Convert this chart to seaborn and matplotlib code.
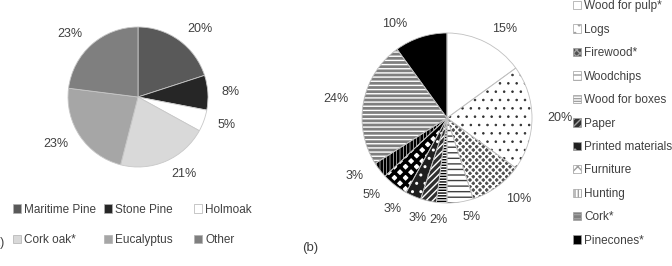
import matplotlib
matplotlib.use("Agg")
import numpy as np
import matplotlib.pyplot as plt
from matplotlib.patches import Patch
import seaborn as sns

# ---- data ----
species = ["Maritime Pine", "Stone Pine", "Holmoak", "Cork oak*", "Eucalyptus", "Other"]
species_pct = [20, 8, 5, 21, 23, 23]

products = ["Wood for pulp*", "Logs", "Firewood*", "Woodchips", "Wood for boxes",
            "Paper", "Printed materials", "Furniture", "Hunting", "Cork*", "Pinecones*"]
products_pct = [15, 20, 10, 5, 2, 3, 3, 5, 3, 24, 10]

sns.set_theme(style="white")
plt.rcParams["font.family"] = ["Liberation Sans", "DejaVu Sans"]
plt.rcParams["hatch.linewidth"] = 1.0
TXT = "#404040"

species_colors = ["#595959", "#262626", "#ffffff", "#d9d9d9", "#a6a6a6", "#7f7f7f"]

# (facecolor, hatch, hatchcolor, hatch linewidth)
prod_styles = [
    ("#ffffff", None, "#ffffff", 1.0),
    ("#ffffff", "..", "#303030", 0.6),
    ("#505050", "xxxxx", "#ffffff", 1.2),
    ("#ffffff", "---", "#404040", 1.0),
    ("#ffffff", "------", "#000000", 1.0),
    ("#303030", "/////", "#ffffff", 1.0),
    ("#202020", "..", "#ffffff", 1.0),
    ("#ffffff", "xxx", "#000000", 2.5),
    ("#ffffff", "|||||", "#000000", 2.0),
    ("#7f7f7f", "----", "#ffffff", 1.0),
    ("#000000", None, "#000000", 1.0),
]

# small angular nudges (degrees) for crowded labels of the right pie
label_nudge = {4: 4, 5: 1, 6: -3, 7: -3, 8: -3, 10: 5}


def style_patch(p, fc, h, hc, hlw):
    p.set_facecolor(fc)
    p.set_edgecolor(hc)
    p.set_linewidth(0)
    if h:
        p.set_hatch(h)
        if hasattr(p, "set_hatch_linewidth"):
            p.set_hatch_linewidth(hlw)


fig = plt.figure(figsize=(6.72, 2.66), dpi=100)

# ---- left pie ----
axL = fig.add_axes([68 / 672, 1 - 167 / 266, 140 / 672, 140 / 266])
wedges, texts = axL.pie(
    species_pct, colors=species_colors, startangle=90, counterclock=False,
    labels=[f"{v}%" for v in species_pct], labeldistance=1.2,
    wedgeprops=dict(edgecolor="#c8c8c8", linewidth=0.6),
    textprops=dict(fontsize=9, color=TXT),
)
axL.set_xlim(-1, 1)
axL.set_ylim(-1, 1)
axL.set_aspect("equal")
axL.axis("off")

# left legend: three columns placed separately
cols = [[0, 3], [1, 4], [2, 5]]
col_x = [13, 104, 194]
for idx, x in zip(cols, col_x):
    handles = [Patch(facecolor=species_colors[i], edgecolor="#b0b0b0", linewidth=0.5,
                     label=species[i]) for i in idx]
    fig.legend(handles=handles, loc="center left", bbox_to_anchor=(x / 672, 1 - 225 / 266),
               frameon=False, fontsize=8.5, handlelength=0.7, handleheight=0.7,
               handletextpad=0.25, borderpad=0, borderaxespad=0, labelspacing=1.6,
               labelcolor=TXT)

fig.text(4 / 672, 1 - 243 / 266, "(a)", ha="right", va="center", fontsize=9, color=TXT)

# ---- right pie ----
axR = fig.add_axes([362 / 672, 1 - 203 / 266, 170 / 672, 170 / 266])
w2, t2 = axR.pie(
    products_pct, startangle=90, counterclock=False,
    labels=[f"{v}%" for v in products_pct], labeldistance=1.18,
    textprops=dict(fontsize=9, color=TXT),
    wedgeprops=dict(linewidth=0),
)
for w, st in zip(w2, prod_styles):
    style_patch(w, *st)
for i, (w, t) in enumerate(zip(w2, t2)):
    if i in label_nudge:
        ang = np.deg2rad((w.theta1 + w.theta2) / 2 + label_nudge[i])
        t.set_position((1.2 * np.cos(ang), 1.2 * np.sin(ang)))
# separator lines on top
axR.pie(products_pct, startangle=90, counterclock=False,
        colors=["none"] * len(products_pct),
        wedgeprops=dict(edgecolor="#c0c0c0", linewidth=0.6, fill=False))
axR.set_xlim(-1, 1)
axR.set_ylim(-1, 1)
axR.set_aspect("equal")
axR.axis("off")

handles = [Patch(facecolor=st[0], edgecolor=st[2], hatch=st[1], linewidth=0, label=name)
           for name, st in zip(products, prod_styles)]
legR = fig.legend(handles=handles, loc="center left", bbox_to_anchor=(573 / 672, 1 - 123.5 / 266),
                  frameon=False, fontsize=8.5, handlelength=0.7, handleheight=0.7,
                  handletextpad=0.25, borderpad=0, borderaxespad=0, labelspacing=0.97,
                  labelcolor=TXT)
for p in legR.get_patches():
    p.set_linewidth(0.5)
    p.set_edgecolor("#a0a0a0")

fig.text(302 / 672, 1 - 248 / 266, "(b)", ha="left", va="center", fontsize=9.5, color=TXT)

fig.savefig("out.png", dpi=100)
